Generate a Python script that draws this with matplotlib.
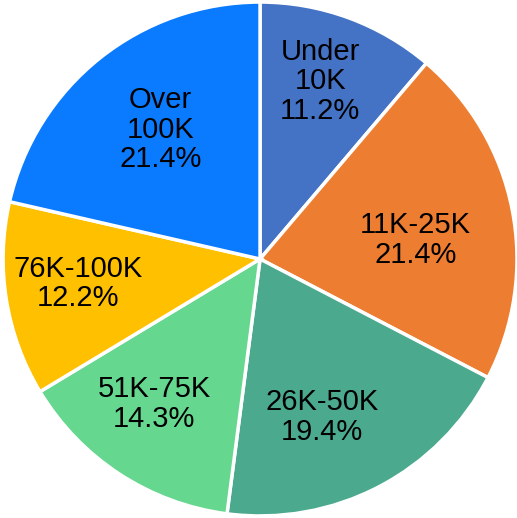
import numpy as np
import matplotlib
matplotlib.use("Agg")
from matplotlib import pyplot as plt

# income brackets and their share (%)
labels = ["Under\n10K", "11K-25K", "26K-50K", "51K-75K", "76K-100K", "Over\n100K"]
shares = [11.2, 21.4, 19.4, 14.3, 12.2, 21.4]
colors = ["#4472C4", "#ED7D31", "#4BA98E", "#66D78F", "#FFC000", "#0A7BFF"]

# where each label sits: fraction of radius, and clockwise nudge in degrees
label_r = [0.73, 0.61, 0.66, 0.70, 0.715, 0.635]
label_shift = [-1.5, 4.2, 6.2, 3.0, 1.4, 1.0]

fig = plt.figure(figsize=(5.17, 5.18), dpi=100)
ax = fig.add_axes([0, 0, 1, 1])

wedges, _ = ax.pie(shares, colors=colors, startangle=90, counterclock=False,
                   wedgeprops=dict(edgecolor="white", linewidth=2.5),
                   radius=1.0)

for w, lab, val, r, s in zip(wedges, labels, shares, label_r, label_shift):
    mid = np.deg2rad((w.theta1 + w.theta2) / 2 - s)
    ax.text(r * np.cos(mid), r * np.sin(mid), "{}\n{:.1f}%".format(lab, val),
            ha="center", va="center", fontsize=21,
            family="Liberation Sans", linespacing=1.08)

ax.set_xlim(-1.012, 1.0)
ax.set_ylim(-1.008, 1.008)
ax.set_aspect("equal")
ax.axis("off")

fig.savefig("out.png", dpi=100)
